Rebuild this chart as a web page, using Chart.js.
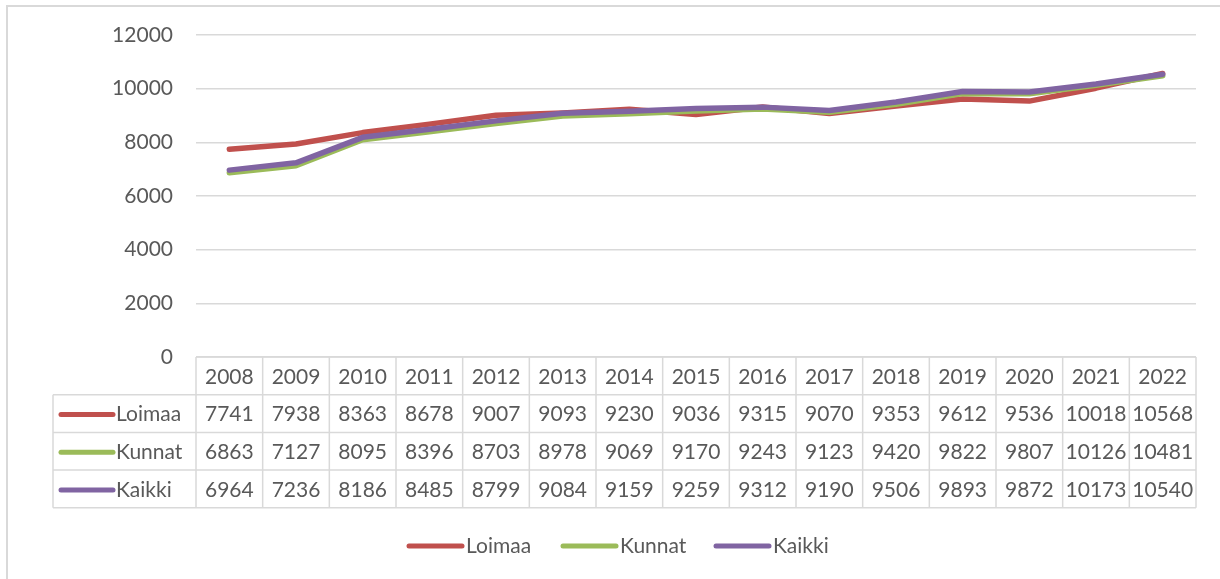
<!DOCTYPE html>
<html>
<head>
<meta charset="utf-8">
<script src="https://cdn.jsdelivr.net/npm/chart.js@4.4.1/dist/chart.umd.min.js"></script>
<style>
html,body{margin:0;padding:0;background:#fff;}
#wrap{position:relative;width:1220px;height:579px;}
</style>
</head>
<body>
<div id="wrap"><canvas id="c" width="1220" height="579"></canvas></div>
<script>
const years = ['2008','2009','2010','2011','2012','2013','2014','2015','2016','2017','2018','2019','2020','2021','2022'];
const loimaa = [7741,7938,8363,8678,9007,9093,9230,9036,9315,9070,9353,9612,9536,10018,10568];
const kunnat = [6863,7127,8095,8396,8703,8978,9069,9170,9243,9123,9420,9822,9807,10126,10481];
const kaikki = [6964,7236,8186,8485,8799,9084,9159,9259,9312,9190,9506,9893,9872,10173,10540];
const yTicks = [0,2000,4000,6000,8000,10000,12000];
const seriesNames = ['Loimaa','Kunnat','Kaikki'];
const seriesColors = ['#C0504D','#9BBB59','#8064A2'];

const FONT = 'Lato, "Open Sans", sans-serif';
const TXT = '#595959';
const GRID = '#D9D9D9';

const tablePlugin = {
  id: 'dataTable',
  afterDraw(chart) {
    const ctx = chart.ctx;
    const xs = chart.scales.x;
    const area = chart.chartArea;
    const n = years.length;
    const w = (area.right - area.left) / n;
    const top = area.bottom;
    const rowH = 37.7;
    const leftX = 53;
    ctx.save();
    ctx.strokeStyle = GRID;
    ctx.lineWidth = 2;
    ctx.beginPath();
    ctx.moveTo(7, 579); ctx.lineTo(7, 6); ctx.lineTo(1220, 6);
    ctx.stroke();
    ctx.lineWidth = 1.5;
    ctx.beginPath();
    ctx.moveTo(area.left, top); ctx.lineTo(area.right, top);
    for (let r = 1; r <= 4; r++) {
      const y = top + r * rowH;
      ctx.moveTo(leftX, y); ctx.lineTo(area.right, y);
    }
    for (let i = 0; i <= n; i++) {
      const x = area.left + i * w;
      ctx.moveTo(x, top); ctx.lineTo(x, top + 4 * rowH);
    }
    ctx.moveTo(leftX, top + rowH); ctx.lineTo(leftX, top + 4 * rowH);
    ctx.stroke();
    ctx.fillStyle = TXT;
    ctx.font = '21px ' + FONT;
    ctx.textAlign = 'center';
    ctx.textBaseline = 'middle';
    years.forEach((yr, i) => {
      const cx = xs.getPixelForValue(i);
      ctx.fillText(yr, cx, top + rowH * 0.5 + 1);
    });
    const data = [loimaa, kunnat, kaikki];
    data.forEach((arr, r) => {
      const cy = top + rowH * (r + 1.5) + 1;
      arr.forEach((v, i) => {
        const cx = xs.getPixelForValue(i);
        ctx.fillText(String(v), cx, cy);
      });
      ctx.strokeStyle = seriesColors[r];
      ctx.lineWidth = 5;
      ctx.lineCap = 'round';
      ctx.beginPath();
      ctx.moveTo(61, cy); ctx.lineTo(113, cy);
      ctx.stroke();
      ctx.textAlign = 'left';
      ctx.fillText(seriesNames[r], 116, cy);
      ctx.textAlign = 'center';
    });
    const legY = 546;
    const legX = [409, 563, 716];
    seriesNames.forEach((name, r) => {
      ctx.strokeStyle = seriesColors[r];
      ctx.lineWidth = 5;
      ctx.lineCap = 'round';
      ctx.beginPath();
      ctx.moveTo(legX[r], legY); ctx.lineTo(legX[r] + 53, legY);
      ctx.stroke();
      ctx.textAlign = 'left';
      ctx.fillText(name, legX[r] + 57, legY);
    });
    ctx.restore();
  }
};

new Chart(document.getElementById('c'), {
  type: 'line',
  data: {
    labels: years,
    datasets: [
      {label: seriesNames[0], data: loimaa, borderColor: seriesColors[0], backgroundColor: seriesColors[0], order: 2},
      {label: seriesNames[1], data: kunnat, borderColor: seriesColors[1], backgroundColor: seriesColors[1], order: 1},
      {label: seriesNames[2], data: kaikki, borderColor: seriesColors[2], backgroundColor: seriesColors[2], order: 0}
    ].map(d => Object.assign(d, {borderWidth: 5.5, pointRadius: 0, tension: 0, borderJoinStyle: 'round', borderCapStyle: 'round', fill: false}))
  },
  options: {
    responsive: false,
    animation: false,
    layout: {padding: {top: 35, right: 24, left: 0, bottom: 222}},
    plugins: {legend: {display: false}, tooltip: {enabled: false}},
    scales: {
      x: {
        type: 'category',
        offset: true,
        display: false
      },
      y: {
        min: 0, max: 12000,
        afterBuildTicks(s) { s.ticks = yTicks.map(v => ({value: v})); },
        grid: {color: GRID, lineWidth: 1.5, drawTicks: false},
        border: {display: false},
        ticks: {color: TXT, font: {family: FONT, size: 21}, padding: 23, callback: v => String(v)},
        afterFit(s) { s.width = 196; s.paddingTop = 0; s.paddingBottom = 0; }
      }
    }
  },
  plugins: [tablePlugin]
});
</script>
</body>
</html>
